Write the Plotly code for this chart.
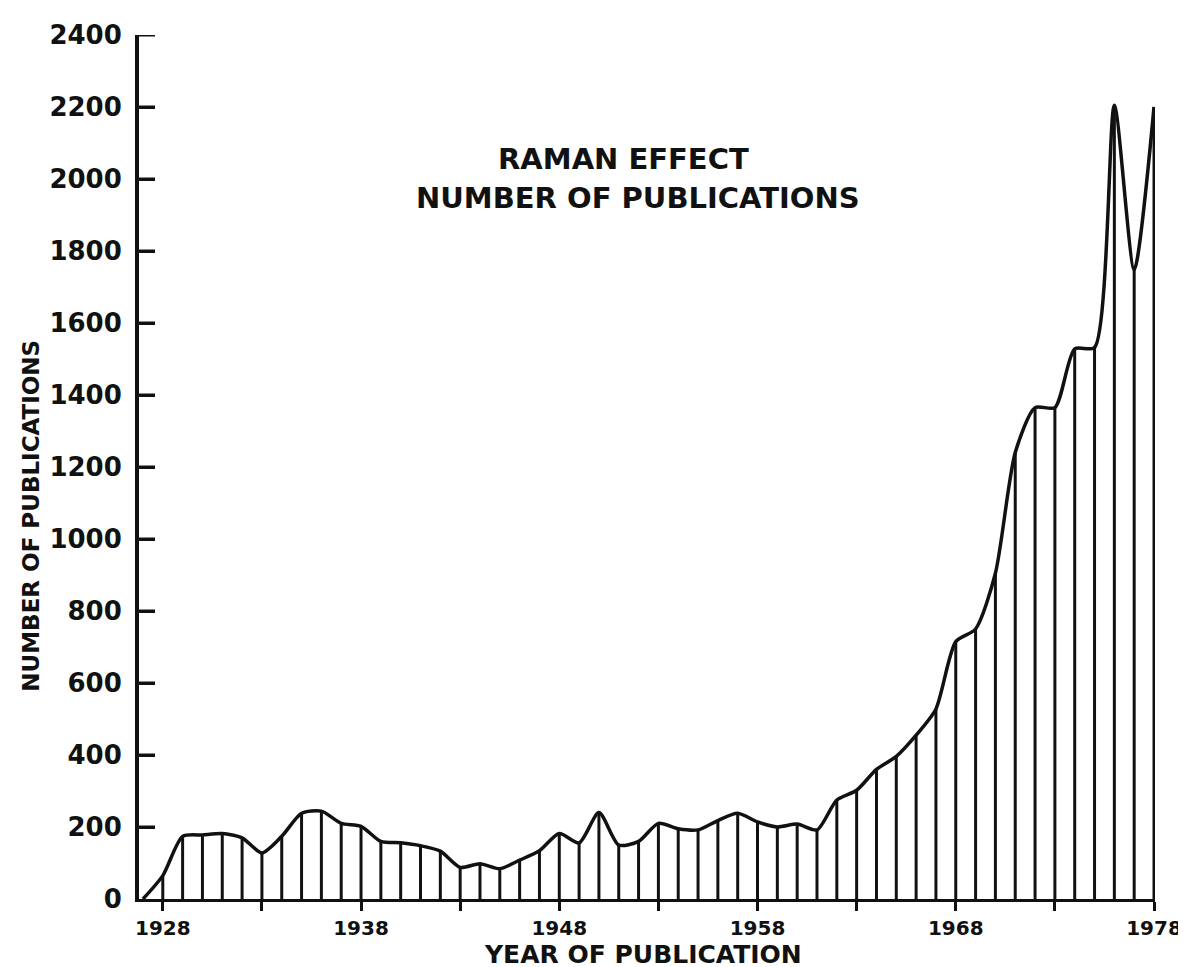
import plotly.graph_objects as go

# ---- data ----
years = list(range(1927, 1979))
counts = [
    0, 65, 174, 178, 182, 170, 128, 174, 238, 244,
    210, 202, 160, 156, 148, 133, 88, 98, 84, 108,
    134, 182, 156, 240, 150, 160, 210, 195, 192, 218,
    238, 214, 200, 208, 192, 275, 302, 360, 396, 455,
    528, 715, 750, 905, 1240, 1365, 1365, 1528, 1532, 2205,
    1748, 2200,
]
tick_years = list(range(1928, 1979, 5))
tick_labels = [str(y) if (y - 1928) % 10 == 0 else "" for y in tick_years]
y_ticks = list(range(0, 2401, 200))

title_lines = ["RAMAN EFFECT", "NUMBER OF PUBLICATIONS"]
x_title = "YEAR OF PUBLICATION"
y_title = "NUMBER OF PUBLICATIONS"

INK = "#111111"
FONT = "DejaVu Sans"
X_RANGE = [1926.8, 1978.05]

# vertical hatch lines from baseline to curve at each year
stem_x, stem_y = [], []
for yr, c in zip(years, counts):
    if yr < 1928:
        continue
    stem_x += [yr, yr, None]
    stem_y += [0, c, None]

fig = go.Figure()
fig.add_trace(go.Scatter(
    x=stem_x, y=stem_y, mode="lines",
    line=dict(color=INK, width=3),
    hoverinfo="skip", showlegend=False, cliponaxis=False,
))
fig.add_trace(go.Scatter(
    x=years, y=counts, mode="lines",
    line=dict(color=INK, width=3.5, shape="spline", smoothing=0.7),
    showlegend=False, cliponaxis=False,
))

fig.update_xaxes(
    range=X_RANGE,
    tickmode="array", tickvals=tick_years, ticktext=tick_labels,
    ticks="outside", ticklen=9, tickwidth=3, tickcolor=INK,
    showline=True, linewidth=3, linecolor=INK,
    showgrid=False, zeroline=False,
    tickfont=dict(family=FONT, size=20, color=INK, weight="bold"),
)
fig.update_yaxes(
    range=[0, 2400],
    tickmode="array", tickvals=y_ticks,
    ticks="inside", ticklen=16, tickwidth=3, tickcolor=INK,
    showline=True, linewidth=4, linecolor=INK,
    showgrid=False, zeroline=False,
    ticklabelstandoff=8,
    tickfont=dict(family=FONT, size=26, color=INK, weight="bold"),
)

# inward-pointing tick marks on the y axis (one per tick value)
for v in y_ticks[1:]:
    fig.add_shape(
        type="line", xref="x", yref="y", xsizemode="pixel",
        xanchor=X_RANGE[0], x0=0, x1=16, y0=v, y1=v,
        line=dict(color=INK, width=3), layer="above",
    )

annots = [
    dict(text=title_lines[0], x=0.4766, y=0.856, xref="paper", yref="paper",
         showarrow=False, xanchor="center", yanchor="middle",
         font=dict(family=FONT, size=29, color=INK, weight="bold")),
    dict(text=title_lines[1], x=0.491, y=0.811, xref="paper", yref="paper",
         showarrow=False, xanchor="center", yanchor="middle",
         font=dict(family=FONT, size=29, color=INK, weight="bold")),
    dict(text=x_title, x=0.496, y=-0.064, xref="paper", yref="paper",
         showarrow=False, xanchor="center", yanchor="middle",
         font=dict(family=FONT, size=25, color=INK, weight="bold")),
    dict(text=y_title, x=-0.106, y=0.444, xref="paper", yref="paper",
         showarrow=False, xanchor="center", yanchor="middle", textangle=-90,
         font=dict(family=FONT, size=23, color=INK, weight="bold")),
]
fig.update_layout(
    annotations=annots,
    width=1186, height=967,
    margin=dict(l=131, r=29, t=18, b=76),
    paper_bgcolor="white", plot_bgcolor="white",
)

fig.write_html("out.html")
